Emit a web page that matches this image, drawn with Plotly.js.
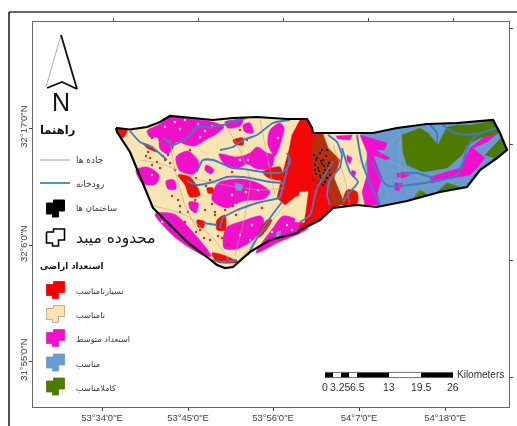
<!DOCTYPE html>
<html><head><meta charset="utf-8">
<script src="https://cdn.plot.ly/plotly-3.0.1.min.js"></script>
<style>html,body{margin:0;padding:0;background:#fff}#map{width:517px;height:426px;filter:blur(0.4px)}</style>
</head><body><div id="map"></div>
<script>
// Digitised map sheet: x = easting, y = southing, in sheet units
const lonTickVals=[102,188,273,359,445];
const lonTickText=['53°34\'0"E','53°45\'0"E','53°56\'0"E','54°7\'0"E','54°18\'0"E'];
const latTickVals=[128,245,361];
const latTickText=['32°17\'0"N','32°6\'0"N','31°55\'0"N'];
const topTickVals=[113,198,283,368,453];
const rightTickVals=[28,144,260,377];

const boundary=[[116,128],[130,129.5],[147,127],[160,122],[170,116],[190,118],[213,120],[233,118],[257,117],[287,119],[307,119],[312,128],[313,133],[323,133],[373,133],[397,128],[427,124],[457,123],[493,120],[500,133],[507,150],[497,158],[480,170],[467,187],[440,192],[407,201],[377,207],[357,205],[333,208],[320,220],[300,230],[297,233],[270,240],[250,252],[233,267],[225,268],[217,265],[207,257],[187,242],[153,208],[137,168],[130,152],[117,132],[116,128]];

const bluePatches=[
 [[360,133],[373,133],[397,128],[427,124],[457,123],[493,120],[500,133],[507,150],[497,158],[480,170],[467,187],[440,192],[407,201],[377,207],[372,190],[365,165],[370,148]],
 [[235,183],[243,185],[241,191],[236,190]],[[277,232],[281,231],[280,236],[276,237]]
];
const greenPatches=[
 [[402,135],[420,128],[428,133],[438,145],[447,127],[457,125],[470,125],[487,122],[494,120],[500,133],[480,138],[467,145],[462,155],[447,168],[423,172],[407,165],[403,152]],
 [[507,150],[497,159],[485,155],[493,147],[501,138]],
 [[437,192],[447,183],[460,187],[467,187],[440,192]],
 [[412,199],[420,190],[428,195]]
];
const magentaPatches=[
 [[147,131],[160,124],[170,117],[190,119],[213,122],[224,127],[215,135],[207,139],[195,146],[187,145],[177,142],[168,154],[160,149],[158,138],[150,137]],
 [[225,122],[243,120],[240,126],[228,128]],
 [[243,125],[250,123],[253,133],[245,132]],
 [[270,130],[280,123],[284,128],[281,142],[275,156],[268,145]],
 [[219,154],[237,157],[250,153],[257,147],[267,153],[274,155],[271,168],[257,169],[247,164],[237,169],[226,166]],
 [[176,157],[188,151],[199,163],[194,174],[180,171]],
 [[136,170],[147,167],[159,175],[156,184],[143,184]],
 [[166,181],[174,180],[176,189],[168,189]],
 [[218,183],[240,179],[258,183],[270,192],[264,199],[243,201],[227,208],[212,200]],
 [[155,214],[174,214],[191,230],[211,256],[205,256],[177,239]],
 [[226,228],[243,221],[261,216],[264,222],[254,239],[237,249],[224,248]],
 [[256,253],[273,228],[283,216],[300,221],[308,228],[277,243]],
 [[206,165],[214,170],[211,174],[205,170]],
 [[189,202],[198,203],[196,213],[190,209]],
 [[360,135],[387,143],[385,150],[375,150],[390,158],[387,160],[373,155],[382,178],[377,193],[380,205],[365,205],[362,192],[368,172],[367,152]],
 [[430,177],[460,168],[470,148],[497,127],[498,133],[487,142],[473,148],[485,158],[477,168],[470,175],[453,178],[432,183]],
 [[397,173],[410,175],[403,178],[397,177]],
 [[395,183],[402,183],[400,191],[395,190]],
 [[336,136],[352,135],[350,140],[338,139]],[[347,155],[352,158],[350,164],[347,161]],[[352,170],[356,172],[354,178],[351,175]]
];
const redPatches=[
 [[116,128],[127,130],[123,138],[118,133]],
 [[143,143],[153,147],[157,152],[147,148]],
 [[233,140],[243,138],[243,145],[235,144]],
 [[178,175],[190,177],[200,195],[190,197],[185,185]],
 [[263,172],[280,167],[282,180],[267,177]],
 [[217,220],[225,215],[225,230],[217,230]],
 [[197,220],[205,222],[203,228],[198,227]],
 [[212,253],[223,255],[238,262],[217,262]],
 [[207,188],[213,188],[213,193],[208,193]],
 [[257,237],[267,220],[272,220],[260,237]],
 [[347,190],[357,192],[357,204],[343,205]]
];
const bigRedPatch=[[[300,120],[308,120],[312,128],[313,134],[322,134],[322,175],[340,205],[333,208],[320,220],[300,231],[297,233],[300,225],[305,222],[305,205],[308,191],[295,197],[285,205],[277,198],[283,172],[289,150],[292,135]]];
const darkRedPatches=[
 [[313,137],[323,134],[328,148],[340,160],[334,178],[345,205],[332,205],[327,185],[313,175],[312,158]]
];
const beigeOverPatches=[
 [[300,192],[308,192],[305,215],[300,222],[295,222]]
];
const riversWest=[
 [[130,131],[140,142],[153,148],[167,160]],
 [[163,138],[173,145],[187,138],[197,127],[210,127],[223,125],[237,120],[247,118]],
 [[220,150],[233,147],[243,140],[257,135],[273,123],[290,120]],
 [[197,172],[203,160],[213,160],[230,167],[250,170],[267,173]],
 [[187,181],[197,185],[213,182],[227,177],[243,177],[270,182]],
 [[237,210],[257,203],[280,198]],
 [[203,223],[217,225]],
 [[248,255],[257,238],[270,218],[282,202]],
 [[357,135],[362,162],[372,188],[380,205]],
 [[342,148],[350,172],[358,182],[350,192],[343,202]],
 [[328,135],[337,142],[342,155]],
 [[372,162],[382,180],[388,186],[410,185],[430,182],[457,175],[463,162],[467,148],[477,135],[497,128]],
 [[400,173],[417,173],[433,178]],
 [[430,125],[437,133],[437,143]],
 [[443,125],[452,132],[467,135],[477,133]]
];
const riversOverRed=[
 [[267,173],[283,172],[290,162],[287,153]],
 [[270,182],[283,183]],
 [[220,228],[223,218],[237,210]],
 [[280,198],[290,158]],
 [[210,260],[223,262],[237,260]],
 [[342,155],[340,167],[330,180],[327,195],[330,205]],
 [[300,222],[310,215],[317,188],[333,162]]
];
const roads=[
 [[140,160],[165,165],[200,180],[260,190],[285,188]],
 [[150,205],[185,215],[215,240],[230,262]],
 [[170,140],[175,170],[185,205],[200,235]],
 [[225,125],[240,150],[250,180],[245,215],[235,255]],
 [[260,120],[265,145],[275,195]],
 [[238,262],[260,235],[285,205]],
 [[333,145],[345,180],[350,205]],
 [[380,155],[400,133]],
 [[400,133],[400,192]],
 [[387,160],[430,182]],
 [[413,198],[430,183]],
 [[388,195],[388,205]]
];
const buildingX=[314,317,320,323,326,329,315,318,322,325,328,316,320,324,327,313,319,323,330,317,321,325,316,322,327,319,324,315,329,321];
const buildingY=[155,158,153,160,156,163,165,168,164,170,166,174,176,173,178,180,183,185,175,188,178,182,160,150,150,171,166,170,170,161];
const speckRedX=[165,170,175,150,157,163,195,205,215,185,210,240,247,253,180,215,200,222,228,205,225,232,148,152,172,190,210,236,262,146,152,160,168,178,188,196,206,212,233,240,196,204,218,172,180];
const speckRedY=[160,163,170,158,162,156,200,210,215,222,240,130,140,155,206,212,230,238,245,250,210,172,152,138,148,150,180,215,208,156,165,168,155,200,212,178,186,204,206,228,232,238,236,196,212];
const speckPaleX=[175,185,198,205,212,200,180,240,248,232,258,246,235,252,270,272,240,250,195,165,152,162,278,287,292,238];
const speckPaleY=[122,120,124,131,126,137,129,160,160,195,190,192,205,225,225,232,235,240,232,127,175,222,138,225,230,188];

const arrowShaft=[[61,35],[46,87]];
const arrowThick=[[61,35],[77,89],[62,82],[47,88]];
const legendLines=[{name:'جاده ها',y:160,color:'#b8ae96'},{name:'رودخانه',y:183,color:'#2e75b6'}];
const legendLabels=['بسیارنامناسب','نامناسب','استعداد متوسط','مناسب','کاملامناسب'];
const legendRows=[290.5,314.5,338.5,363,387];
const legendColors=['#f00000','#fbe4b4','#ee12c8','#6a9bd0','#4f7a00'];
const legendEdges=['#f00000','#b8a070','#ee12c8','#6a9bd0','#4f7a00'];
const legendPatch=[[-9,-6],[-2,-6],[-2,-9],[9,-9],[9,2],[3,2],[3,8],[-3,8],[-3,5],[-9,5],[-9,-6]];
const scaleEdges=[325,333,341,349,357,389,421,453];
const scaleTicks=[[325,'0'],[340,'3.25'],[357,'6.5'],[389,'13'],[421,'19.5'],[453,'26']];

const W=517,H=426,L=33,R=509,T=22,B=407;
const xs=a=>a.map(p=>p[0]), ys=a=>a.map(p=>p[1]);
function flat(list,i){const o=[];list.forEach((b,k)=>{if(k)o.push(null);b.forEach(p=>o.push(p[i]));o.push(b[0][i]);});return o;}
function area(list,color,lc,lw,smooth){return {x:flat(list,0),y:flat(list,1),mode:'lines',fill:'toself',fillcolor:color,line:Object.assign({color:lc||color,width:lw==null?0.5:lw},smooth?{shape:'spline',smoothing:0.8}:{}),hoverinfo:'skip'};}
function lines(list,color,w){const x=[],y=[];list.forEach((b,k)=>{if(k){x.push(null);y.push(null);}b.forEach(p=>{x.push(p[0]);y.push(p[1]);});});return {x,y,mode:'lines',line:{color,width:w,shape:'spline',smoothing:0.6},hoverinfo:'skip'};}
const dots=(x,y,c,s)=>({x,y,mode:'markers',marker:{size:s,color:c},hoverinfo:'skip'});

const traces=[
 area([boundary],'#fbe4b4'),
 area(magentaPatches.slice(0,14),'#f010cc',null,0.5,true),
 dots(speckPaleX,speckPaleY,'#fde6c8',2.4),
 area(bigRedPatch,'#f20808'),
 area(redPatches,'#e81208',null,0.5,true),
 area(beigeOverPatches,'#fbe4b4'),
 area(bluePatches,'#6a9bd0'),
 area(magentaPatches.slice(14),'#f010cc'),
 area(greenPatches,'#4f7a00'),
 area(darkRedPatches,'#b5300f'),
 dots(speckRedX,speckRedY,'#c8321e',2.4),
 dots(buildingX,buildingY,'#2a1408',2.3),
 lines(roads,'#b0a88c',0.6),
 lines(riversWest,'#3f7cc2',1.9),
 lines(riversOverRed,'#6470b0',1.9),
 {x:xs(boundary),y:ys(boundary),mode:'lines',line:{color:'#000',width:2.2},hoverinfo:'skip'},
 {x:xs(arrowShaft),y:ys(arrowShaft),mode:'lines',line:{color:'#999',width:0.8},hoverinfo:'skip'},
 {x:xs(arrowThick),y:ys(arrowThick),mode:'lines',line:{color:'#111',width:1.8},hoverinfo:'skip'},
 {x:[40,70],y:[legendLines[0].y,legendLines[0].y],mode:'lines',line:{color:legendLines[0].color,width:1.2},hoverinfo:'skip'},
 {x:[40,70],y:[legendLines[1].y,legendLines[1].y],mode:'lines',line:{color:legendLines[1].color,width:1.6},hoverinfo:'skip'}
];
const place=(p,cy)=>[p[0]+55.5,p[1]+cy];
traces.push(area([legendPatch.map(p=>place(p,209))],'#000','#000',1));
traces.push(area([legendPatch.map(p=>place(p,238))],'#fff','#000',1.6));
legendRows.forEach((cy,i)=>traces.push(area([legendPatch.map(p=>place(p,cy))],legendColors[i],legendEdges[i],0.8)));
scaleEdges.slice(0,-1).forEach((e,i)=>{
  const dark=[0,2,4,6].includes(i);
  traces.push({x:[e,scaleEdges[i+1]],y:[375,375],mode:'lines',line:{color:dark?'#000':'#fff',width:4.6},hoverinfo:'skip'});
});
traces.push({x:[325,453,null,325,453],y:[372.4,372.4,null,377.6,377.6],mode:'lines',line:{color:'#111',width:0.6},hoverinfo:'skip'});
traces.push({x:[null],y:[null],xaxis:'x2',yaxis:'y2',mode:'lines',hoverinfo:'skip'});

const fa='"DejaVu Sans"', la='"Liberation Sans"';
const txt=(text,x,y,size,opt={})=>Object.assign({text,x,y,xref:'x',yref:'y',xanchor:'left',yanchor:'middle',showarrow:false,font:{family:fa,size,color:'#3a3a3a'}},opt);
const annotations=[
 txt('N',61,102,25,{xanchor:'center',font:{family:la,size:25,color:'#111'}}),
 txt('<b>راهنما</b>',38,130,11.5,{font:{family:fa,size:11.5,color:'#111'}}),
 txt(legendLines[0].name,74,160,9),
 txt(legendLines[1].name,74,184,9),
 txt('ساختمان ها',74,208,8.5),
 txt('محدوده میبد',74,238,15.5,{font:{family:fa,size:15.5,color:'#111'}}),
 txt('<b>استعداد اراضی</b>',38,266,8.7,{font:{family:fa,size:8.7,color:'#111'}})
];
legendLabels.forEach((t,i)=>annotations.push(txt(t,74,legendRows[i]+0.5,8.2)));
scaleTicks.forEach(t=>annotations.push(txt(t[1],t[0],387,10.5,{xanchor:'center',font:{family:la,size:10.5,color:'#333'}})));
annotations.push(txt('Kilometers',455,374,10,{font:{family:la,size:10,color:'#333'}}));

const px=v=>(v-L)/(R-L), py=v=>(B-v)/(B-T);
const frame={type:'line',xref:'paper',yref:'paper',line:{color:'#333',width:1.7}};
const axFont={family:la,size:9.5,color:'#444'};
const layout={
 width:W,height:H,showlegend:false,paper_bgcolor:'#fff',plot_bgcolor:'#fff',
 margin:{l:L,r:W-R,t:T,b:H-B,pad:0},
 xaxis:{range:[L,R],tickmode:'array',tickvals:lonTickVals,ticktext:lonTickText,ticks:'outside',ticklen:3,ticklabelstandoff:-2,tickcolor:'#444',tickfont:axFont,showgrid:false,zeroline:false,showline:true,linecolor:'#666',linewidth:1.4,fixedrange:true},
 yaxis:{range:[B,T],tickmode:'array',tickvals:latTickVals,ticktext:latTickText,tickangle:-90,ticks:'outside',ticklen:3,ticklabelstandoff:-2,tickcolor:'#444',tickfont:axFont,showgrid:false,zeroline:false,showline:true,linecolor:'#666',linewidth:1.4,fixedrange:true},
 xaxis2:{overlaying:'x',side:'top',anchor:'y2',range:[L,R],tickmode:'array',tickvals:topTickVals,ticktext:topTickVals.map(()=>''),ticks:'outside',ticklen:3,tickcolor:'#444',showgrid:false,zeroline:false,showline:true,linecolor:'#666',linewidth:1.4},
 yaxis2:{overlaying:'y',side:'right',anchor:'x2',range:[B,T],tickmode:'array',tickvals:rightTickVals,ticktext:rightTickVals.map(()=>''),ticks:'outside',ticklen:3,tickcolor:'#444',showgrid:false,zeroline:false,showline:true,linecolor:'#666',linewidth:1.4},
 annotations,
 shapes:[
  Object.assign({},frame,{x0:px(9),x1:px(517),y0:py(12),y1:py(12)}),
  Object.assign({},frame,{x0:px(9),x1:px(9),y0:py(12),y1:py(426)})
 ]
};
Plotly.newPlot('map',traces,layout,{staticPlot:true,displayModeBar:false});
</script></body></html>
